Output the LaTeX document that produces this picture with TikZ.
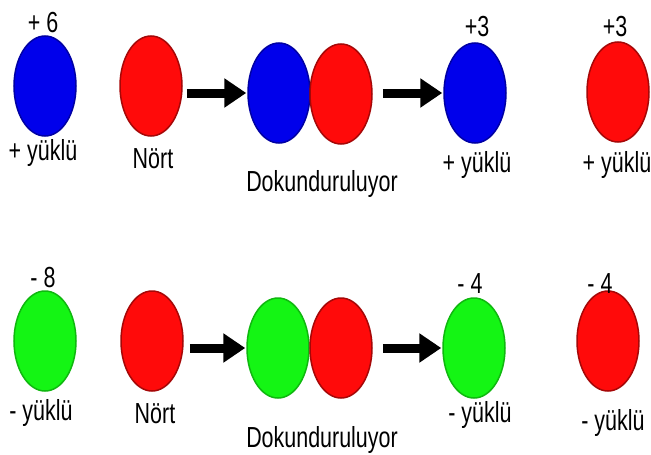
\documentclass[tikz,border=0pt]{standalone}
\usepackage{fontspec}
\setmainfont{Liberation Sans}[FakeStretch=0.74]
\usetikzlibrary{arrows.meta,shapes.geometric}
\definecolor{cblue}{RGB}{0,0,235}
\definecolor{cred}{RGB}{255,10,10}
\definecolor{cgreen}{RGB}{20,245,20}
\tikzset{
  ball/.style={ellipse, minimum width=62pt, minimum height=100pt, inner sep=0pt, line width=1.5pt},
  bluball/.style={ball, fill=cblue, draw=cblue!70!black},
  redball/.style={ball, fill=cred, draw=cred!65!black},
  grnball/.style={ball, fill=cgreen, draw=cgreen!75!black},
  lbl/.style={font=\fontsize{29}{30}\selectfont, anchor=base, inner sep=0pt},
  conn/.style={line width=9pt, -{Triangle[length=22pt,width=28pt]}, shorten >=1pt}
}
\begin{document}
\begin{tikzpicture}[x=1pt,y=-1pt]
\useasboundingbox (0,0) rectangle (651,455);
\fill[white] (0,0) rectangle (651,455);
% top row
\node[bluball] (b1) at (45,86) {};
\node[redball] (r1) at (151,86) {};
\node[bluball] (b2) at (279,93) {};
\node[redball] (r2) at (341,94) {};
\node[bluball] (b3) at (475,93) {};
\node[redball] (r3) at (618,92) {};
\draw[conn] ([xshift=4pt]r1.east |- b2.west) -- (b2.west);
\draw[conn] ([xshift=10pt]r2.east |- b3.west) -- (b3.west);
\node[lbl] (t1) at (43,32) {+ 6};
\node[lbl] (t2) at (43,160) {+ yüklü};
\node[lbl] (t3) at (153,168) {Nört};
\node[lbl] (t4) at (322,191) {Dokunduruluyor};
\node[lbl] (t5) at (477,36) {+3};
\node[lbl] (t6) at (477,172) {+ yüklü};
\node[lbl] (t7) at (615,36) {+3};
\node[lbl] (t8) at (617,172) {+ yüklü};
% bottom row
\node[grnball] (g1) at (45,341) {};
\node[redball] (r4) at (152,341) {};
\node[grnball] (g2) at (278,348) {};
\node[redball] (r5) at (341,348) {};
\node[grnball] (g3) at (474,348) {};
\node[redball] (r6) at (608,341) {};
\draw[conn] ([xshift=6pt]r4.east |- g2.west) -- (g2.west);
\draw[conn] ([xshift=10pt]r5.east |- g3.west) -- (g3.west);
\node[lbl] (u1) at (43,287) {- 8};
\node[lbl] (u2) at (41,420) {- yüklü};
\node[lbl] (u3) at (155,423) {Nört};
\node[lbl] (u4) at (322,447) {Dokunduruluyor};
\node[lbl] (u5) at (470,293) {- 4};
\node[lbl] (u6) at (480,422) {- yüklü};
\node[lbl] (u7) at (600,293) {- 4};
\node[lbl] (u8) at (613,430) {- yüklü};
\end{tikzpicture}
\end{document}
